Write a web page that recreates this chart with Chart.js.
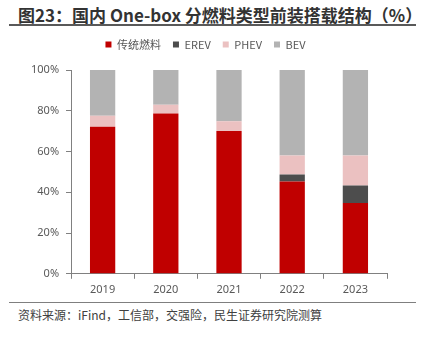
<!DOCTYPE html>
<html>
<head>
<meta charset="utf-8">
<script src="https://cdn.jsdelivr.net/npm/chart.js@4"></script>
<style>
  body { margin: 0; background: #fff; font-family: "Noto Sans CJK SC", "Noto Sans", sans-serif; }
  #wrap { position: relative; width: 424px; height: 337px; overflow: hidden; }
  #title { position: absolute; left: 18px; top: 2px; font-size: 17px; font-weight: bold; color: #333; white-space: nowrap; }
  #rule1 { position: absolute; left: 9px; width: 407px; top: 24px; height: 2px; background: #595959; }
  #rule2 { position: absolute; left: 9px; width: 407px; top: 302px; height: 1px; background: #7f7f7f; }
  #source { position: absolute; left: 18px; top: 306px; font-size: 12px; color: #404040; white-space: nowrap; }
  #box { position: absolute; left: 0; top: 27px; width: 424px; height: 275px; }
</style>
</head>
<body>
<div id="wrap">
  <div id="title">图23：国内 One-box 分燃料类型前装搭载结构（%）</div>
  <div id="rule1"></div>
  <div id="box"><canvas id="mixChart"></canvas></div>
  <div id="rule2"></div>
  <div id="source">资料来源：iFind，工信部，交强险，民生证券研究院测算</div>
</div>
<script>
// share of each fuel type, percent
const years = ["2019", "2020", "2021", "2022", "2023"];
const fuel = [72.2, 78.7, 70.1, 45.3, 34.7];
const erev = [0, 0, 0, 3.4, 8.6];
const phev = [5.3, 4.3, 4.8, 9.4, 14.8];
const bev = [22.5, 17.0, 25.1, 41.9, 41.9];
const yTicks = [0, 20, 40, 60, 80, 100];

const axisGrey = '#808080';
const tickFont = { family: 'Noto Sans', size: 11 };

// extra room under the legend
const legendGap = {
    id: 'legendGap',
    beforeInit(chart) {
        const fit = chart.legend.fit;
        chart.legend.fit = function () {
            fit.call(this);
            this.height += 10;
        };
    }
};

new Chart(document.getElementById('mixChart'), {
    type: 'bar',
    data: {
        labels: years,
        datasets: [
            { label: '传统燃料', data: fuel, backgroundColor: '#C00000' },
            { label: 'EREV', data: erev, backgroundColor: '#4D4D4D' },
            { label: 'PHEV', data: phev, backgroundColor: '#EBC1C1' },
            { label: 'BEV', data: bev, backgroundColor: '#B3B3B3' }
        ]
    },
    plugins: [legendGap],
    options: {
        responsive: true,
        maintainAspectRatio: false,
        animation: false,
        datasets: { bar: { categoryPercentage: 1, barPercentage: 0.4, borderWidth: 0 } },
        layout: { padding: { left: 24, right: 37, top: 0, bottom: 2 } },
        plugins: {
            tooltip: { enabled: false },
            legend: {
                position: 'top',
                labels: {
                    boxWidth: 6, boxHeight: 6, padding: 12,
                    color: '#595959',
                    font: { family: 'Noto Sans CJK SC', size: 11 }
                }
            }
        },
        scales: {
            x: {
                stacked: true,
                grid: { display: true, drawOnChartArea: false, drawTicks: true, tickLength: 5, color: axisGrey, offset: true },
                border: { display: true, color: axisGrey },
                ticks: { color: '#595959', font: tickFont, padding: 4 }
            },
            y: {
                stacked: true,
                min: 0, max: 100,
                afterBuildTicks: axis => { axis.ticks = yTicks.map(v => ({ value: v })); },
                grid: { display: true, drawOnChartArea: false, drawTicks: true, tickLength: 5, color: axisGrey },
                border: { display: true, color: axisGrey },
                ticks: { color: '#595959', font: tickFont, padding: 7, callback: v => v + '%' }
            }
        }
    }
});
</script>
</body>
</html>
